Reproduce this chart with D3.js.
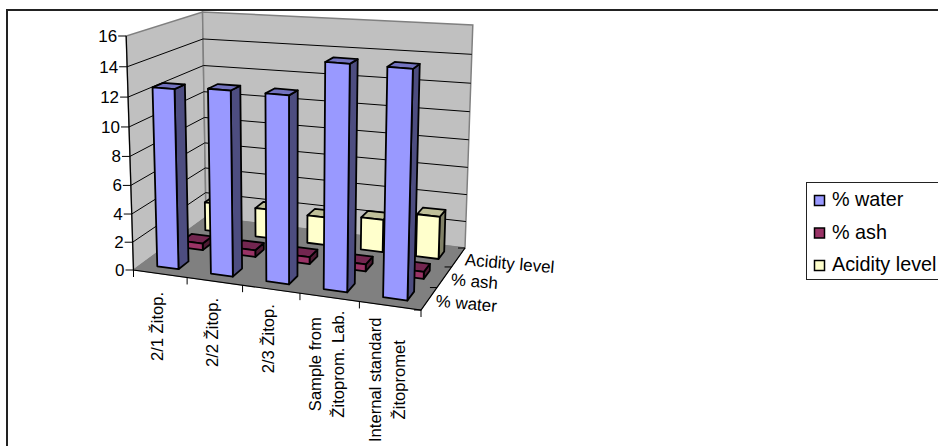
<!DOCTYPE html>
<html>
<head>
<meta charset="utf-8">
<style>
  html, body { margin: 0; padding: 0; background: #fff; }
  svg { display: block; font-family: "Liberation Sans", Arial, sans-serif; fill: #000; }
</style>
</head>
<body>
<div id="chart"></div>
<script src="https://cdn.jsdelivr.net/npm/d3@7"></script>
<script>
const categories = [["2/1 Žitop."], ["2/2 Žitop."], ["2/3 Žitop."], ["Sample from", "Žitoprom. Lab."], ["Internal standard", "Žitopromet"]];
const seriesNames = ["% water", "% ash", "Acidity level"];
const water = [12.5, 12.7, 12.7, 15.0, 15.0];
const ash = [0.5, 0.5, 0.5, 0.5, 0.5];
const acidity = [2.2, 2.2, 2.1, 2.4, 3.1];
const seriesValues = [water, ash, acidity];
const valueTicks = [0, 2, 4, 6, 8, 10, 12, 14, 16];
const seriesColors = [
  { front: "#9999ff", side: "#4d4d80", top: "#7373bf" },
  { front: "#993366", side: "#4d1a33", top: "#732650" },
  { front: "#ffffcc", side: "#808066", top: "#bfbf99" }
];

const svgWidth = 938;
const svgHeight = 446;

const svg = d3.select("#chart").append("svg")
  .attr("width", svgWidth)
  .attr("height", svgHeight);

// Step 1: corners of the box
const floorC = [[133.5, 270], [421, 310], [465, 248], [206, 217]];
const topC = [[125, 36], [425, 58], [472, 25], [202, 12]];

// unit square to quad
function squareToQuad(q) {
  const [[x0, y0], [x1, y1], [x2, y2], [x3, y3]] = q;
  const dx1 = x1 - x2, dx2 = x3 - x2, sx = x0 - x1 + x2 - x3;
  const dy1 = y1 - y2, dy2 = y3 - y2, sy = y0 - y1 + y2 - y3;
  const den = dx1 * dy2 - dx2 * dy1;
  const g = (sx * dy2 - dx2 * sy) / den;
  const h = (dx1 * sy - sx * dy1) / den;
  return (u, v) => {
    const w = g * u + h * v + 1;
    return [
      ((x1 - x0 + g * x1) * u + (x3 - x0 + h * x3) * v + x0) / w,
      ((y1 - y0 + g * y1) * u + (y3 - y0 + h * y3) * v + y0) / w
    ];
  };
}
const floorMap = squareToQuad(floorC);
const topMap = squareToQuad(topC);

// Step 2: scales, u = along categories, w = into the depth, s = up
const xScale = d3.scaleBand().domain(d3.range(categories.length)).range([0, 1]);
const zScale = d3.scaleBand().domain(d3.range(seriesNames.length)).range([0, 1]);
const yScale = d3.scaleLinear().domain([0, 16]).range([0, 1]);

function project(u, w, value) {
  const s = yScale(value);
  const t = s / (s + (1 - s) * 1.06);
  const a = floorMap(u, w);
  const b = topMap(u, w);
  const y = a[1] + (b[1] - a[1]) * t;
  // uprights lean away from x = 290
  const x = a[0] + (a[0] - 290) * 0.0002 * (a[1] - y);
  return [x, y];
}
const pathOf = pts => "M" + pts.map(p => p[0].toFixed(2) + "," + p[1].toFixed(2)).join("L") + "Z";
const lineOf = pts => "M" + pts.map(p => p[0].toFixed(2) + "," + p[1].toFixed(2)).join("L");

// Step 3: walls and floor
const walls = svg.append("g");
const yMax = 16;
walls.append("path")
  .attr("d", pathOf([project(0, 0, 0), project(0, 1, 0), project(0, 1, yMax), project(0, 0, yMax)]))
  .attr("fill", "#c0c0c0").attr("stroke", "#808080").attr("stroke-width", 1.5);
walls.append("path")
  .attr("d", pathOf([project(0, 1, 0), project(1, 1, 0), project(1, 1, yMax), project(0, 1, yMax)]))
  .attr("fill", "#c0c0c0").attr("stroke", "#808080").attr("stroke-width", 1.5);
walls.append("path")
  .attr("d", pathOf([project(0, 0, 0), project(1, 0, 0), project(1, 1, 0), project(0, 1, 0)]))
  .attr("fill", "#808080").attr("stroke", "#808080");

// gridlines
walls.selectAll(".grid")
  .data(valueTicks.filter(d => d > 0 && d < yMax))
  .enter()
  .append("path")
  .attr("class", "grid")
  .attr("d", d => lineOf([project(0, 0, d), project(0, 1, d), project(1, 1, d)]))
  .attr("fill", "none").attr("stroke", "#000").attr("stroke-width", 1);

// Step 4: bars, back row first
const bars = svg.append("g");
const pad = 0.3;
for (let si = seriesNames.length - 1; si >= 0; si--) {
  const col = seriesColors[si];
  categories.forEach((c, ci) => {
    const u0 = xScale(ci) + xScale.bandwidth() * pad;
    const u1 = xScale(ci) + xScale.bandwidth() * (1 - pad);
    const w0 = zScale(si) + zScale.bandwidth() * pad;
    const w1 = zScale(si) + zScale.bandwidth() * (1 - pad);
    const v = seriesValues[si][ci];
    const faces = [
      { pts: [project(u1, w0, 0), project(u1, w1, 0), project(u1, w1, v), project(u1, w0, v)], fill: col.side },
      { pts: [project(u0, w0, v), project(u1, w0, v), project(u1, w1, v), project(u0, w1, v)], fill: col.top },
      { pts: [project(u0, w0, 0), project(u1, w0, 0), project(u1, w0, v), project(u0, w0, v)], fill: col.front }
    ];
    bars.selectAll(null)
      .data(faces)
      .enter()
      .append("path")
      .attr("d", d => pathOf(d.pts))
      .attr("fill", d => d.fill)
      .attr("stroke", "#000")
      .attr("stroke-width", 1.8)
      .attr("stroke-linejoin", "round");
  });
}

// Step 5: axes
const axes = svg.append("g");
axes.append("path")
  .attr("d", lineOf([project(0, 0, yMax), project(0, 0, 0), project(1, 0, 0), project(1, 1, 0)]))
  .attr("fill", "none").attr("stroke", "#000").attr("stroke-width", 1.2);

const fontTick = 17;
valueTicks.forEach(d => {
  const p = project(0, 0, d);
  axes.append("line").attr("x1", p[0] - 8).attr("x2", p[0]).attr("y1", p[1]).attr("y2", p[1])
    .attr("stroke", "#000");
  axes.append("text")
    .attr("x", p[0] - 9).attr("y", p[1] + 6)
    .attr("text-anchor", "end").attr("font-size", fontTick)
    .text(d);
});

// category ticks + labels
d3.range(categories.length + 1).forEach(i => {
  const p = project(i / categories.length, 0, 0);
  axes.append("line").attr("x1", p[0]).attr("x2", p[0]).attr("y1", p[1]).attr("y2", p[1] + 7)
    .attr("stroke", "#000");
});
categories.forEach((c, i) => {
  const u = xScale(i) + xScale.bandwidth() / 2;
  const p = project(u, 0, 0);
  const labels = axes.append("g");
  const texts = c.map((t, j) => {
    const lx = p[0] - 3 + (j - (c.length - 1) / 2) * 23.5 + 6;
    return labels.append("text")
      .datum(lx)
      .attr("text-anchor", "middle")
      .attr("font-size", 16.6)
      .text(t);
  });
  // lines are centred on each other, the block hangs below the tick
  const longest = d3.max(texts, t => t.node().getComputedTextLength());
  const cy = p[1] + (19 - 8 * u) + longest / 2;
  texts.forEach(t => t.attr("transform", d => `translate(${d},${cy}) rotate(-90)`));
});

// depth ticks + labels
d3.range(seriesNames.length + 1).forEach(i => {
  const p = project(1, i / seriesNames.length, 0);
  axes.append("line").attr("x1", p[0] - 7).attr("x2", p[0]).attr("y1", p[1]).attr("y2", p[1])
    .attr("stroke", "#000");
});
seriesNames.forEach((t, i) => {
  const p = project(1, zScale(i) + zScale.bandwidth() / 2, 0);
  axes.append("text")
    .attr("transform", `translate(${p[0] + 6},${p[1] + 8}) rotate(5)`)
    .attr("font-size", 17)
    .text(t);
});

// Step 6: legend
const legend = svg.append("g");
legend.append("rect")
  .attr("x", 806.5).attr("y", 182.5).attr("width", 140).attr("height", 97)
  .attr("fill", "#fff").attr("stroke", "#222");
seriesNames.forEach((t, i) => {
  const ly = 200.5 + i * 32.5;
  legend.append("rect")
    .attr("x", 814.5).attr("y", ly - 5).attr("width", 10).attr("height", 10)
    .attr("fill", seriesColors[i].front).attr("stroke", "#000").attr("stroke-width", 1.5);
  legend.append("text")
    .attr("x", 832).attr("y", ly + 5.5).attr("font-size", 19.8)
    .text(t);
});

// Step 7: outer frame
svg.append("path")
  .attr("d", "M7,446V10H938")
  .attr("fill", "none").attr("stroke", "#222").attr("stroke-width", 2);
</script>
</body>
</html>
